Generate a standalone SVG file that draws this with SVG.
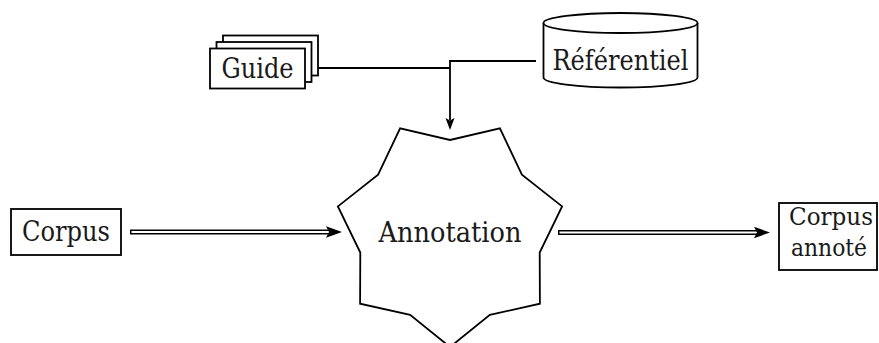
<svg xmlns="http://www.w3.org/2000/svg" width="879" height="343" viewBox="0 0 879 343">
<style>
.s{fill:#fff;stroke:#000;stroke-width:1.8}
.t{font-family:'DejaVu Serif','Liberation Serif',serif;font-size:27.5px;fill:#1a1a1a;text-anchor:middle}
.t2{font-family:'DejaVu Serif','Liberation Serif',serif;font-size:25px;fill:#1a1a1a;text-anchor:middle}
.l{fill:none;stroke:#000;stroke-width:1.8}
.dblo{fill:none;stroke:#000;stroke-width:5}
.dbli{fill:none;stroke:#fff;stroke-width:1.8}
.ah{fill:#000;stroke:none}
</style>
<rect width="879" height="343" fill="#fff"/>
<g id="connectors">
<path class="l" d="M318,68 H450"/>
<path class="l" d="M536,61 H450 V120"/>
<polygon class="ah" points="450,130 445.5,118 450,120.5 454.5,118"/>
<path class="dblo" d="M130,232 H329"/>
<path class="dbli" d="M131.5,232 H330"/>
<polygon class="ah" points="342,232 326,226.3 329,232 326,237.7"/>
<path class="dblo" d="M558,232.5 H757"/>
<path class="dbli" d="M559.5,232.5 H758"/>
<polygon class="ah" points="770,232.5 754,226.8 757,232.5 754,238.2"/>
</g>
<g id="guide">
<rect class="s" x="223" y="35.5" width="95" height="40"/>
<rect class="s" x="216.5" y="42" width="95" height="40"/>
<rect class="s" x="210" y="48.5" width="95" height="40"/>
<text class="t" x="257.5" y="78" textLength="72" lengthAdjust="spacingAndGlyphs">Guide</text>
</g>
<g id="referentiel">
<path class="s" d="M543.5,23 V77.5 A77,10 0 0 0 697.5,77.5 V23"/>
<ellipse class="s" cx="620.5" cy="23" rx="77" ry="10"/>
<text class="t" x="620.5" y="70" textLength="136" lengthAdjust="spacingAndGlyphs">Référentiel</text>
</g>
<g id="annotation">
<polygon class="s" points="450,347 410.1,314.9 360.1,303.7 360.3,252.5 337.9,206.4 378.1,174.6 400.1,128.4 450,140 499.9,128.4 521.9,174.6 562.1,206.4 539.7,252.5 539.9,303.7 489.9,314.9"/>
<text class="t" x="450" y="242" textLength="143" lengthAdjust="spacingAndGlyphs">Annotation</text>
</g>
<g id="corpus">
<rect class="s" x="11" y="209" width="110" height="46"/>
<text class="t" x="66" y="241" textLength="88" lengthAdjust="spacingAndGlyphs">Corpus</text>
</g>
<g id="corpus-annote">
<rect class="s" x="779" y="203" width="98" height="67"/>
<text class="t2" x="831" y="225" textLength="84" lengthAdjust="spacingAndGlyphs">Corpus</text>
<text class="t2" x="829" y="256" textLength="76" lengthAdjust="spacingAndGlyphs">annoté</text>
</g>
</svg>
